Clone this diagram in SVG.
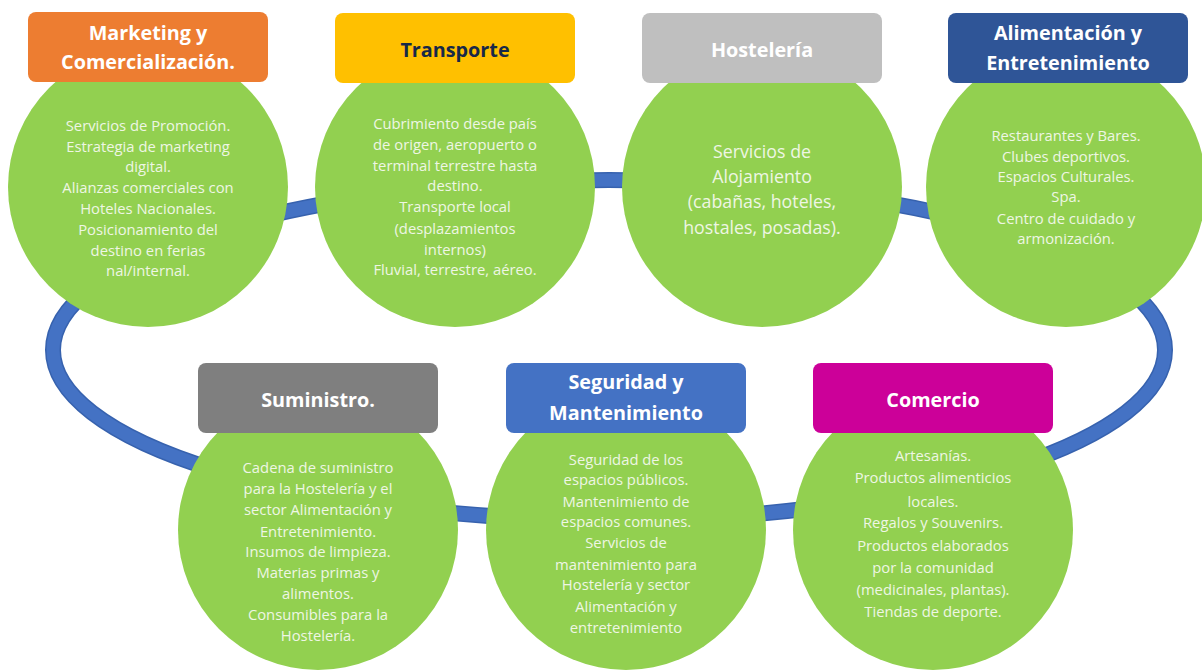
<svg xmlns="http://www.w3.org/2000/svg" width="1202" height="670" viewBox="0 0 1202 670">
<style>
.circ{fill:#92D050}
.hdr{stroke:none}
.ht{font-family:"Open Sans","Noto Sans",sans-serif;font-weight:bold;font-size:19.8px;fill:#FFFFFF;text-anchor:middle}
.bt{font-family:"Open Sans","Noto Sans",sans-serif;font-size:14.8px;fill:#EEF6E4;text-anchor:middle}
.bt2{font-family:"Open Sans","Noto Sans",sans-serif;font-size:17.8px;fill:#EEF6E4;text-anchor:middle}
</style>
<rect width="1202" height="670" fill="#FFFFFF"/>
<g id="connectors">
<ellipse cx="609" cy="350" rx="556" ry="170" fill="none" stroke="#3762AE" stroke-width="16"/>
<ellipse cx="609" cy="350" rx="556" ry="170" fill="none" stroke="#4472C4" stroke-width="13"/>
</g>
<g id="marketing">
<circle class="circ" cx="148" cy="187" r="140"/>
<rect class="hdr" x="28" y="12" width="240" height="70" rx="8" fill="#ED7D31"/>
<text class="ht" x="148" y="40">Marketing y</text>
<text class="ht" x="148" y="69">Comercialización.</text>
<text class="bt" x="148" y="131">Servicios de Promoción.</text>
<text class="bt" x="148" y="152">Estrategia de marketing</text>
<text class="bt" x="148" y="172">digital.</text>
<text class="bt" x="148" y="193">Alianzas comerciales con</text>
<text class="bt" x="148" y="214">Hoteles Nacionales.</text>
<text class="bt" x="148" y="235">Posicionamiento del</text>
<text class="bt" x="148" y="256">destino en ferias</text>
<text class="bt" x="148" y="276">nal/internal.</text>
</g>
<g id="transporte">
<circle class="circ" cx="455" cy="187" r="140"/>
<rect class="hdr" x="335" y="13" width="240" height="70" rx="8" fill="#FFC000"/>
<text class="ht" x="455" y="57" style="fill:#172848">Transporte</text>
<text class="bt" x="455" y="129">Cubrimiento desde país</text>
<text class="bt" x="455" y="150">de origen, aeropuerto o</text>
<text class="bt" x="455" y="171">terminal terrestre hasta</text>
<text class="bt" x="455" y="191">destino.</text>
<text class="bt" x="455" y="212">Transporte local</text>
<text class="bt" x="455" y="234">(desplazamientos</text>
<text class="bt" x="455" y="255">internos)</text>
<text class="bt" x="455" y="275">Fluvial, terrestre, aéreo.</text>
</g>
<g id="hosteleria">
<circle class="circ" cx="762" cy="187" r="140"/>
<rect class="hdr" x="642" y="13" width="240" height="70" rx="8" fill="#BFBFBF"/>
<text class="ht" x="762" y="57">Hostelería</text>
<text class="bt2" x="762" y="158">Servicios de</text>
<text class="bt2" x="762" y="183">Alojamiento</text>
<text class="bt2" x="762" y="208">(cabañas, hoteles,</text>
<text class="bt2" x="762" y="234">hostales, posadas).</text>
</g>
<g id="alimentacion">
<circle class="circ" cx="1066" cy="187" r="140"/>
<rect class="hdr" x="948" y="13" width="240" height="70" rx="8" fill="#2F5597"/>
<text class="ht" x="1068" y="40">Alimentación y</text>
<text class="ht" x="1068" y="70">Entretenimiento</text>
<text class="bt" x="1066" y="141">Restaurantes y Bares.</text>
<text class="bt" x="1066" y="162">Clubes deportivos.</text>
<text class="bt" x="1066" y="182">Espacios Culturales.</text>
<text class="bt" x="1066" y="202">Spa.</text>
<text class="bt" x="1066" y="224">Centro de cuidado y</text>
<text class="bt" x="1066" y="244">armonización.</text>
</g>
<g id="suministro">
<circle class="circ" cx="318" cy="530" r="140"/>
<rect class="hdr" x="198" y="363" width="240" height="70" rx="8" fill="#7F7F7F"/>
<text class="ht" x="318" y="407">Suministro.</text>
<text class="bt" x="318" y="473">Cadena de suministro</text>
<text class="bt" x="318" y="494">para la Hostelería y el</text>
<text class="bt" x="318" y="515">sector Alimentación y</text>
<text class="bt" x="318" y="537">Entretenimiento.</text>
<text class="bt" x="318" y="557">Insumos de limpieza.</text>
<text class="bt" x="318" y="578">Materias primas y</text>
<text class="bt" x="318" y="599">alimentos.</text>
<text class="bt" x="318" y="620">Consumibles para la</text>
<text class="bt" x="318" y="641">Hostelería.</text>
</g>
<g id="seguridad">
<circle class="circ" cx="626" cy="530" r="140"/>
<rect class="hdr" x="506" y="363" width="240" height="70" rx="8" fill="#4472C4"/>
<text class="ht" x="626" y="389">Seguridad y</text>
<text class="ht" x="626" y="420">Mantenimiento</text>
<text class="bt" x="626" y="465">Seguridad de los</text>
<text class="bt" x="626" y="485">espacios públicos.</text>
<text class="bt" x="626" y="507">Mantenimiento de</text>
<text class="bt" x="626" y="527">espacios comunes.</text>
<text class="bt" x="626" y="548">Servicios de</text>
<text class="bt" x="626" y="570">mantenimiento para</text>
<text class="bt" x="626" y="590">Hostelería y sector</text>
<text class="bt" x="626" y="612">Alimentación y</text>
<text class="bt" x="626" y="633">entretenimiento</text>
</g>
<g id="comercio">
<circle class="circ" cx="933" cy="530" r="140"/>
<rect class="hdr" x="813" y="363" width="240" height="70" rx="8" fill="#CC0099"/>
<text class="ht" x="933" y="407">Comercio</text>
<text class="bt" x="933" y="461">Artesanías.</text>
<text class="bt" x="933" y="483">Productos alimenticios</text>
<text class="bt" x="933" y="507">locales.</text>
<text class="bt" x="933" y="528">Regalos y Souvenirs.</text>
<text class="bt" x="933" y="551">Productos elaborados</text>
<text class="bt" x="933" y="573">por la comunidad</text>
<text class="bt" x="933" y="595">(medicinales, plantas).</text>
<text class="bt" x="933" y="617">Tiendas de deporte.</text>
</g>
</svg>
